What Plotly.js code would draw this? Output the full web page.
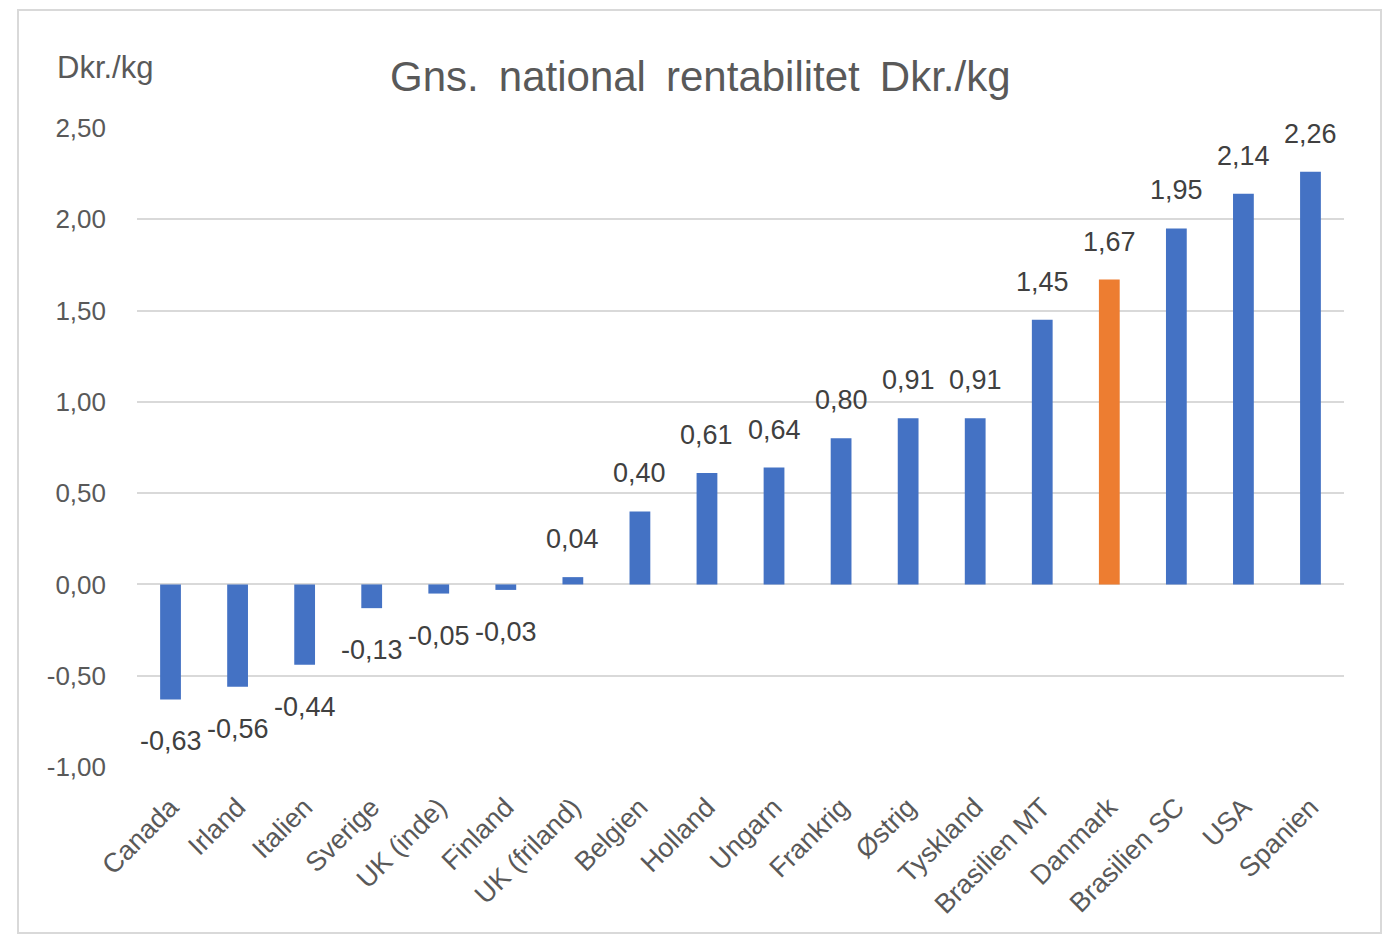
<!DOCTYPE html>
<html><head><meta charset="utf-8">
<script src="https://cdn.plot.ly/plotly-3.0.1.min.js"></script>
<style>
html,body{margin:0;padding:0;background:#fff;}
#chart{width:1384px;height:934px;}
#frame{position:absolute;left:17px;top:9px;width:1361px;height:921px;border:2px solid #d9d9d9;pointer-events:none;}
</style></head>
<body>
<div id="chart"></div>
<div id="frame"></div>
<script>
const categories = ["Canada","Irland","Italien","Sverige","UK (inde)","Finland","UK (friland)","Belgien","Holland","Ungarn","Frankrig","Østrig","Tyskland","Brasilien MT","Danmark","Brasilien SC","USA","Spanien"];
const values = [-0.63,-0.56,-0.44,-0.13,-0.05,-0.03,0.04,0.40,0.61,0.64,0.80,0.91,0.91,1.45,1.67,1.95,2.14,2.26];
const highlight = "Danmark";
const yTicks = [-1,-0.5,0,0.5,1,1.5,2,2.5];

const fmt = v => v.toFixed(2).replace(".", ",");
const colors = categories.map(c => c === highlight ? "#ED7D31" : "#4472C4");
const FONT = "Liberation Sans, Arial, sans-serif";
const TXT = "#595959";

const trace = {
  type: "bar",
  x: categories,
  y: values,
  marker: {color: colors},
  hoverinfo: "none"
};

const labelAnns = categories.map((c, i) => ({
  x: c, y: values[i], xref: "x", yref: "y",
  text: fmt(values[i]), showarrow: false,
  xanchor: "center",
  yanchor: values[i] >= 0 ? "bottom" : "top",
  yshift: values[i] >= 0 ? 21 : -25,
  font: {family: FONT, size: 27, color: "#404040"}
}));

const layout = {
  width: 1384, height: 934,
  margin: {l: 137, r: 40, t: 128, b: 167},
  paper_bgcolor: "#fff", plot_bgcolor: "#fff",
  bargap: 0.69,
  showlegend: false,
  font: {family: FONT, color: TXT},
  title: {text: "Gns.\u2009 national\u2009 rentabilitet\u2009 Dkr./kg", x: 0.506, xanchor: "center", y: 0.918, yanchor: "middle",
          font: {size: 42, color: TXT}},
  xaxis: {type: "category", tickangle: -45, tickfont: {size: 27, color: TXT}, ticklabelstandoff: 18,
          showgrid: false, showline: false, ticks: "", automargin: false},
  yaxis: {range: [-1, 2.5], tickvals: yTicks, ticktext: yTicks.map(fmt),
          tickfont: {size: 26, color: TXT}, ticklabelstandoff: 30,
          showgrid: true, gridcolor: "#d9d9d9", gridwidth: 2,
          zeroline: true, zerolinecolor: "#d9d9d9", zerolinewidth: 2,
          showline: false, ticks: "", automargin: false},
  annotations: [{text: "Dkr./kg", xref: "paper", yref: "paper", x: -0.068, y: 1.094,
                 xanchor: "left", yanchor: "middle", showarrow: false,
                 font: {size: 31, color: TXT}}].concat(labelAnns)
};

Plotly.newPlot("chart", [trace], layout, {displayModeBar: false, staticPlot: true});
</script>
</body></html>
